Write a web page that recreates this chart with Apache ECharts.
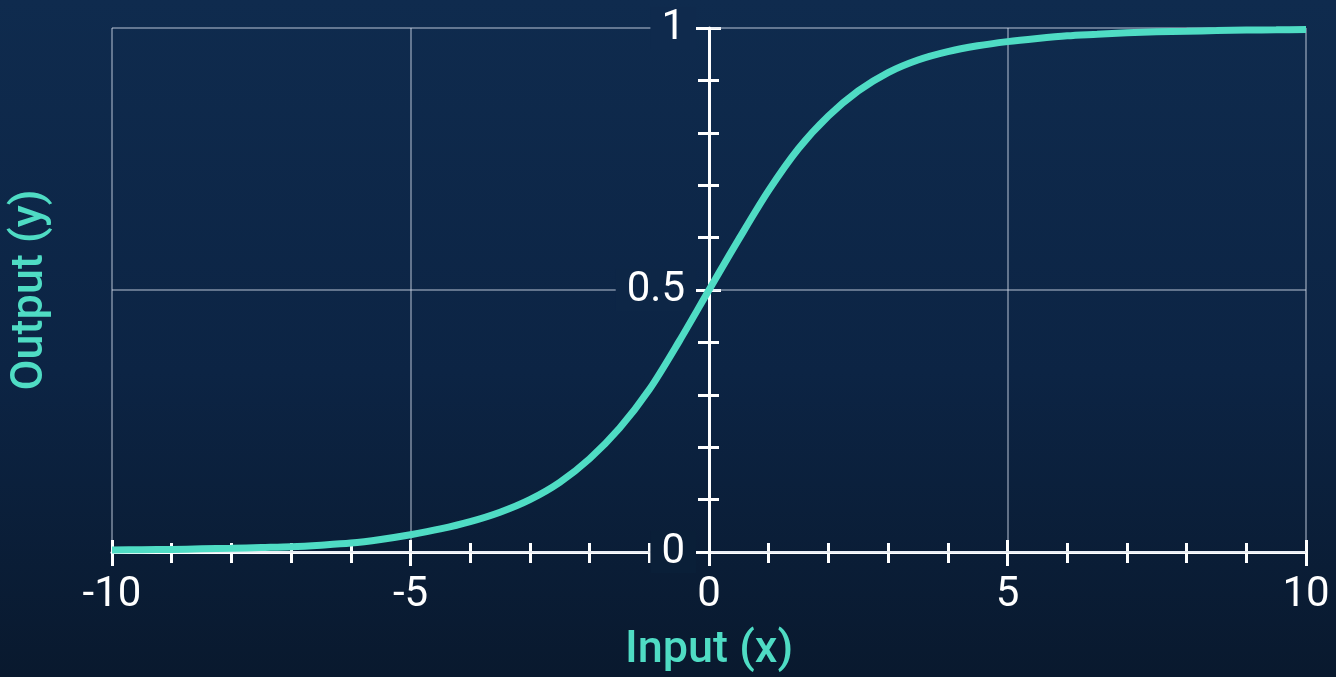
<!DOCTYPE html>
<html>
<head>
<meta charset="utf-8">
<script src="https://cdn.jsdelivr.net/npm/echarts@6/dist/echarts.min.js"></script>
<style>
  html, body { margin: 0; padding: 0; }
  body { background: linear-gradient(180deg, #0f2b4e 0%, #0c2444 55%, #09192e 100%); }
  #chart { width: 1336px; height: 677px; }
</style>
</head>
<body>
<div id="chart"></div>
<script>
// values, every 0.5 on x
const xValues = [-10, -9.5, -9, -8.5, -8, -7.5, -7, -6.5, -6, -5.5, -5, -4.5, -4, -3.5, -3, -2.5, -2, -1.5, -1, -0.5,
                 0, 0.5, 1, 1.5, 2, 2.5, 3, 3.5, 4, 4.5, 5, 5.5, 6, 6.5, 7, 7.5, 8, 8.5, 9, 9.5, 10];
const yValues = [0.004, 0.0045, 0.005, 0.006, 0.007, 0.0085, 0.010, 0.013, 0.017, 0.024, 0.033, 0.044, 0.058, 0.076,
                 0.1, 0.133, 0.178, 0.236, 0.31, 0.402,
                 0.5, 0.597, 0.69, 0.77, 0.832, 0.88, 0.915, 0.939, 0.955, 0.966, 0.974, 0.98, 0.985, 0.988, 0.991,
                 0.993, 0.994, 0.995, 0.996, 0.9965, 0.997];
const yLabels = ['0', '0.5', '1'];

const white = '#ffffff';
const teal = '#4fdcc4';
const gridColor = 'rgba(205, 215, 230, 0.6)';
const font = 'Roboto, "Noto Sans", sans-serif';

const gridLeft = 112;
const gridRight = 30;
const chartWidth = 1336;
// pixel shift that puts the y axis on x = 0 (labels too)
const yAxisShift = -((chartWidth - gridLeft - gridRight) / 2);

const chart = echarts.init(document.getElementById('chart'));

const tickStyle = { color: white, width: 3 };
// label boxes blank out the lines behind them, so match the page gradient
const labelBox = (bg) => ({ color: white, fontSize: 42, fontFamily: font, backgroundColor: bg, padding: [0, 11] });

chart.setOption({
  backgroundColor: 'transparent',
  animation: false,
  grid: { left: gridLeft, right: gridRight, top: 28, bottom: 125, outerBoundsMode: 'none', containLabel: false },
  xAxis: [
    {
      type: 'value', min: -10, max: 10, interval: 5,
      axisLine: { onZero: false, lineStyle: { color: white, width: 3 } },
      axisTick: { show: true, length: 14, lineStyle: tickStyle },
      minorTick: { show: true, splitNumber: 5, length: 11, lineStyle: tickStyle },
      axisLabel: { color: white, fontSize: 42, fontFamily: font, margin: 22 },
      splitLine: { show: true, lineStyle: { color: gridColor, width: 1.5 } },
      name: 'Input (x)', nameLocation: 'middle', nameGap: 76,
      nameTextStyle: { color: teal, fontSize: 45, fontWeight: 500, fontFamily: font }
    },
    {
      // inner half of the ticks
      type: 'value', min: -10, max: 10, interval: 5, position: 'bottom',
      axisLine: { show: false, onZero: false },
      axisTick: { show: true, inside: true, length: 12, lineStyle: tickStyle },
      minorTick: { show: true, splitNumber: 5, length: 9, lineStyle: tickStyle },
      axisLabel: { show: false },
      splitLine: { show: false }
    }
  ],
  yAxis: [
    {
      type: 'value', min: 0, max: 1, interval: 0.5, z: 3,
      position: 'left', offset: yAxisShift,
      axisLine: { show: true, onZero: false, lineStyle: { color: white, width: 3 } },
      axisTick: { show: true, length: 13, lineStyle: tickStyle },
      minorTick: { show: true, splitNumber: 5, length: 11, lineStyle: tickStyle },
      axisLabel: {
        margin: 13,
        formatter: v => {
          const s = String(v);
          if (yLabels.indexOf(s) < 0) return '';
          return '{' + (v === 0 ? 'lo' : v === 1 ? 'hi' : 'mid') + '|' + s + '}';
        },
        rich: { lo: labelBox('#0a1f38'), mid: labelBox('#0d2646'), hi: labelBox('#0f2a4d') }
      },
      splitLine: { show: true, lineStyle: { color: gridColor, width: 1.5 } },
      name: 'Output (y)', nameLocation: 'middle', nameGap: 656,
      nameTextStyle: { color: teal, fontSize: 45, fontWeight: 500, fontFamily: font }
    },
    {
      type: 'value', min: 0, max: 1, interval: 0.5,
      position: 'left', offset: yAxisShift,
      axisLine: { show: false, onZero: false },
      axisTick: { show: true, inside: true, length: 12, lineStyle: tickStyle },
      minorTick: { show: true, splitNumber: 5, length: 10, lineStyle: tickStyle },
      axisLabel: { show: false },
      splitLine: { show: false }
    }
  ],
  series: [
    {
      type: 'line',
      z: 5,
      smooth: 0.3,
      showSymbol: false,
      data: xValues.map((x, i) => [x, yValues[i]]),
      lineStyle: { color: teal, width: 7 }
    }
  ]
});

window.addEventListener('resize', () => chart.resize());
</script>
</body>
</html>
